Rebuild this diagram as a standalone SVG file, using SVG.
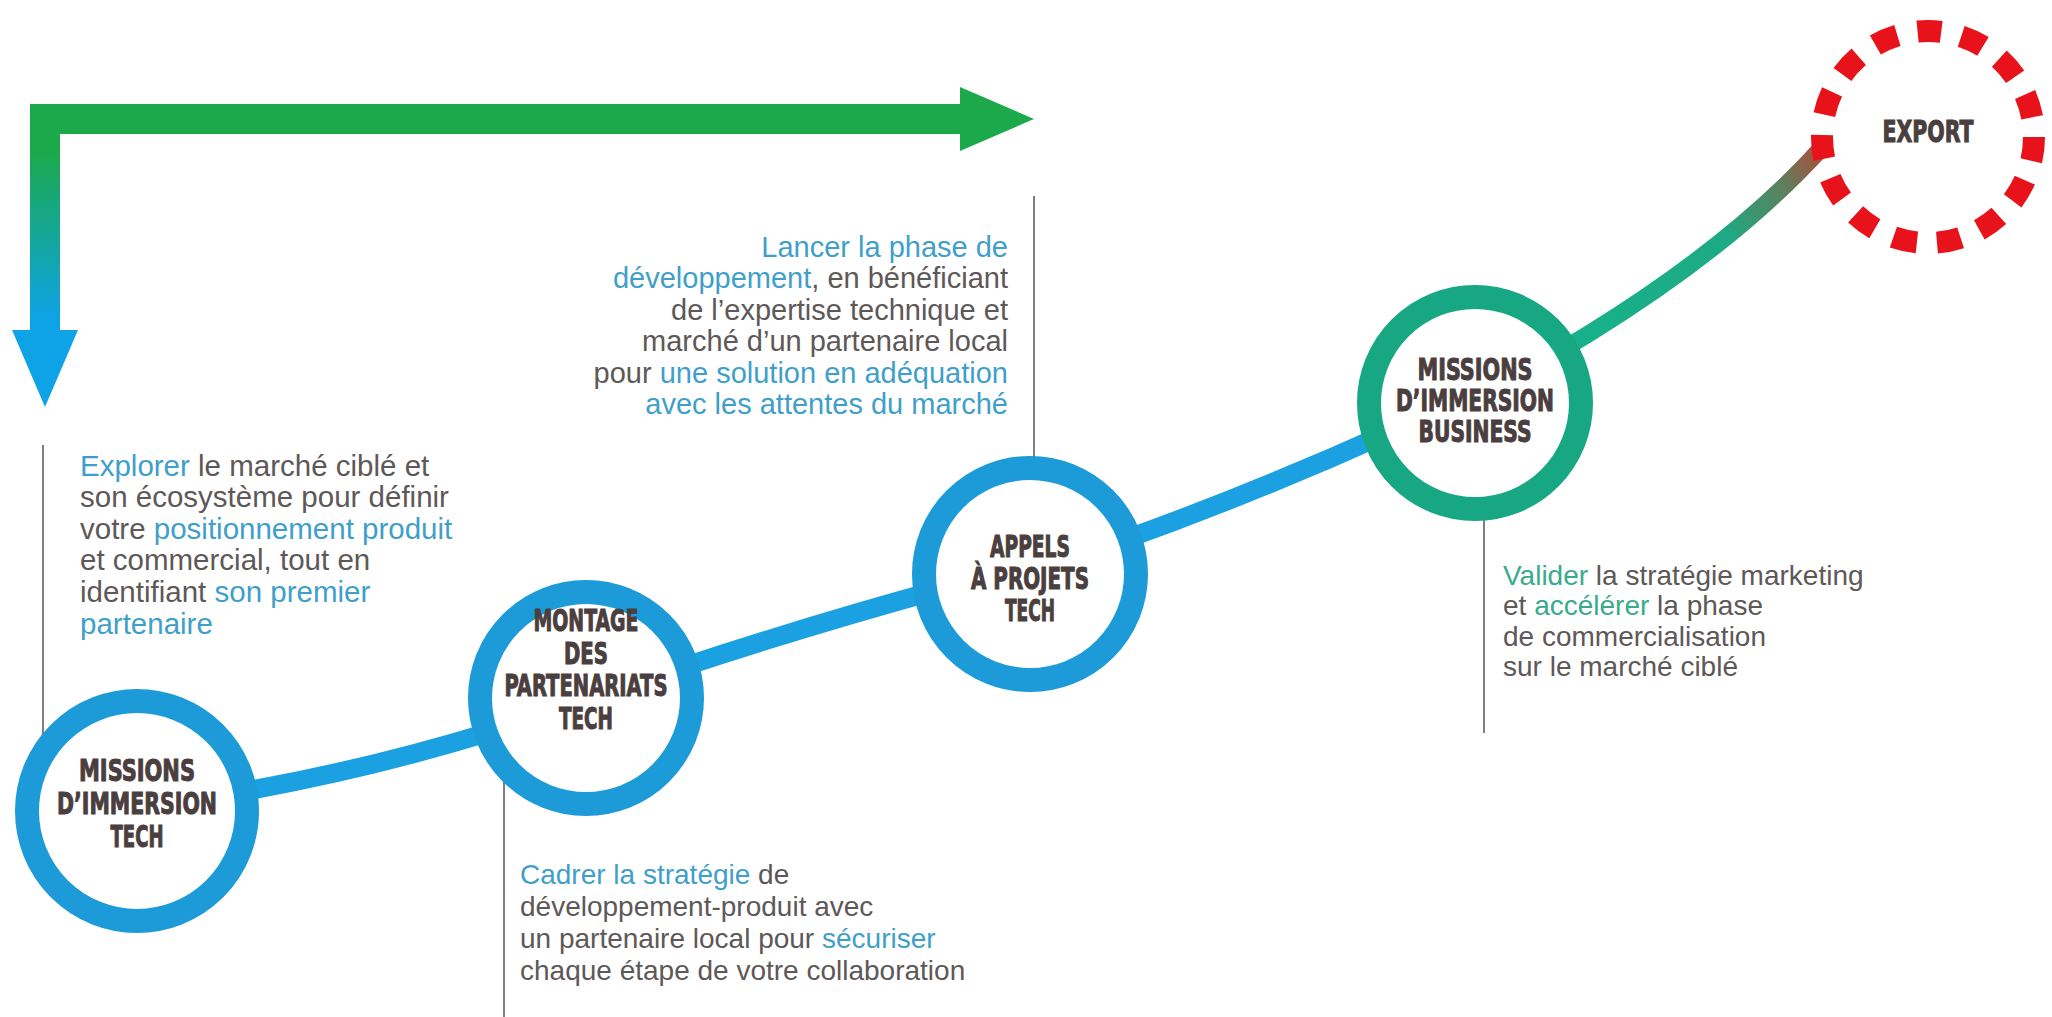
<svg xmlns="http://www.w3.org/2000/svg" width="2052" height="1017" viewBox="0 0 2052 1017">
<defs>
<linearGradient id="gArrow" gradientUnits="userSpaceOnUse" x1="0" y1="150" x2="0" y2="320">
<stop offset="0" stop-color="#1CA94B"/>
<stop offset="1" stop-color="#0EA3E6"/>
</linearGradient>
<linearGradient id="gExport" gradientUnits="userSpaceOnUse" x1="1590" y1="333" x2="1826" y2="143">
<stop offset="0" stop-color="#18B08A"/>
<stop offset="0.55" stop-color="#1DAA84"/>
<stop offset="0.8" stop-color="#5E7F5C"/>
<stop offset="1" stop-color="#B8463A"/>
</linearGradient>
<style>
.body{font-family:"Liberation Sans",Arial,sans-serif;font-size:28px;fill:#5e5858}
.big{font-size:29.5px}
.mid{font-size:29px}
.hb{fill:#3f9fca}
.hg{fill:#3aaa8c}
.lbl{font-family:"Liberation Sans Narrow","DejaVu Sans Condensed","Liberation Sans",sans-serif;font-weight:bold;font-size:30px;fill:#4a3e3e;stroke:#4a3e3e;stroke-width:1;text-anchor:middle}
.ringB{fill:#ffffff;stroke:#1C9BD8;stroke-width:24}
.ringG{fill:#ffffff;stroke:#17A783;stroke-width:24}
.vline{stroke:#555555;stroke-width:1.5;fill:none}
.conn{fill:none;stroke:#1BA1E2;stroke-width:19}
</style>
</defs>
<rect width="2052" height="1017" fill="#ffffff"/>

<g id="flow-arrow">
<path d="M30,104 L960,104 L960,87 L1034,119 L960,151 L960,134 L60,134 L60,330 L78,330 L45,407 L12,330 L30,330 Z" fill="url(#gArrow)"/>
</g>

<g id="leader-lines">
<line class="vline" x1="43" y1="445" x2="43" y2="752"/>
<line class="vline" x1="504" y1="780" x2="504" y2="1017"/>
<line class="vline" x1="1034" y1="196" x2="1034" y2="462"/>
<line class="vline" x1="1484" y1="515" x2="1484" y2="733"/>
</g>

<g id="connectors">
<path class="conn" d="M240,792 Q365,770 490,732"/>
<path class="conn" d="M680,668 Q810,625 945,588"/>
<path class="conn" d="M1115,543 Q1250,495 1390,432"/>
<path d="M1475,403 L1590,333 Q1740,240 1826,143" fill="none" stroke="url(#gExport)" stroke-width="17"/>
</g>

<g id="node-missions-tech">
<circle class="ringB" cx="137" cy="811" r="110" stroke-width="26"/>
<text class="lbl" x="137" y="781" textLength="116" lengthAdjust="spacingAndGlyphs">MISSIONS</text>
<text class="lbl" x="137" y="814" textLength="160" lengthAdjust="spacingAndGlyphs">D’IMMERSION</text>
<text class="lbl" x="137" y="847" textLength="53" lengthAdjust="spacingAndGlyphs">TECH</text>
</g>

<g id="node-montage">
<circle class="ringB" cx="586" cy="698" r="106"/>
<text class="lbl" x="586" y="631" textLength="105" lengthAdjust="spacingAndGlyphs">MONTAGE</text>
<text class="lbl" x="586" y="664" textLength="44" lengthAdjust="spacingAndGlyphs">DES</text>
<text class="lbl" x="586" y="696" textLength="163" lengthAdjust="spacingAndGlyphs">PARTENARIATS</text>
<text class="lbl" x="586" y="729" textLength="54" lengthAdjust="spacingAndGlyphs">TECH</text>
</g>

<g id="node-appels">
<circle class="ringB" cx="1030" cy="574" r="106"/>
<text class="lbl" x="1030" y="557" textLength="80" lengthAdjust="spacingAndGlyphs">APPELS</text>
<text class="lbl" x="1030" y="589" textLength="118" lengthAdjust="spacingAndGlyphs">À PROJETS</text>
<text class="lbl" x="1030" y="621" textLength="50" lengthAdjust="spacingAndGlyphs">TECH</text>
</g>

<g id="node-missions-business">
<circle class="ringG" cx="1475" cy="403" r="106"/>
<text class="lbl" x="1475" y="380" textLength="115" lengthAdjust="spacingAndGlyphs">MISSIONS</text>
<text class="lbl" x="1475" y="411" textLength="158" lengthAdjust="spacingAndGlyphs">D’IMMERSION</text>
<text class="lbl" x="1475" y="442" textLength="113" lengthAdjust="spacingAndGlyphs">BUSINESS</text>
</g>

<g id="node-export">
<circle cx="1928" cy="137" r="106" fill="#ffffff" stroke="#E8121A" stroke-width="22" stroke-dasharray="24 20.4"/>
<text class="lbl" x="1928" y="142" textLength="91" lengthAdjust="spacingAndGlyphs">EXPORT</text>
</g>

<g id="text-missions-tech">
<text class="body big" x="80" y="476"><tspan class="hb">Explorer</tspan> le marché ciblé et</text>
<text class="body big" x="80" y="507">son écosystème pour définir</text>
<text class="body big" x="80" y="539">votre <tspan class="hb">positionnement produit</tspan></text>
<text class="body big" x="80" y="570">et commercial, tout en</text>
<text class="body big" x="80" y="602">identifiant <tspan class="hb">son premier</tspan></text>
<text class="body big" x="80" y="634"><tspan class="hb">partenaire</tspan></text>
</g>

<g id="text-montage">
<text class="body" x="520" y="884"><tspan class="hb">Cadrer la stratégie</tspan> de</text>
<text class="body" x="520" y="916">développement-produit  avec</text>
<text class="body" x="520" y="948">un partenaire  local pour <tspan class="hb">sécuriser</tspan></text>
<text class="body" x="520" y="980">chaque étape de votre collaboration</text>
</g>

<g id="text-appels" text-anchor="end">
<text class="body mid" x="1008" y="257"><tspan class="hb">Lancer la phase de</tspan></text>
<text class="body mid" x="1008" y="288"><tspan class="hb">développement</tspan>, en bénéficiant</text>
<text class="body mid" x="1008" y="320">de l’expertise technique et</text>
<text class="body mid" x="1008" y="351">marché d’un partenaire local</text>
<text class="body mid" x="1008" y="383">pour <tspan class="hb">une solution en adéquation</tspan></text>
<text class="body mid" x="1008" y="414"><tspan class="hb">avec les attentes du marché</tspan></text>
</g>

<g id="text-business">
<text class="body" x="1503" y="585"><tspan class="hg">Valider</tspan> la stratégie marketing</text>
<text class="body" x="1503" y="615">et <tspan class="hg">accélérer</tspan> la phase</text>
<text class="body" x="1503" y="646">de commercialisation</text>
<text class="body" x="1503" y="676">sur le marché ciblé</text>
</g>
</svg>
